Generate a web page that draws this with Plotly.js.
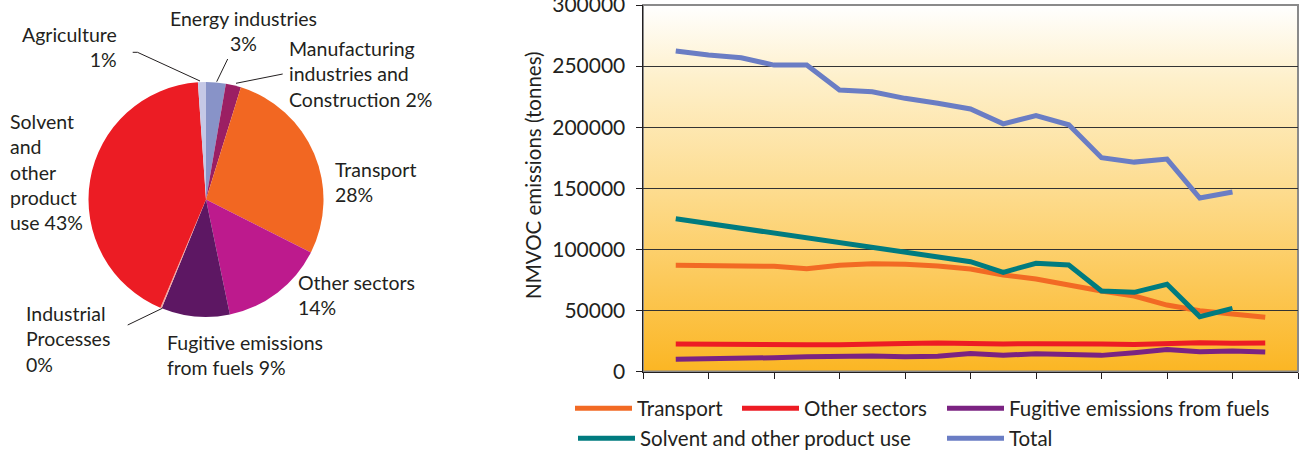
<!DOCTYPE html>
<html>
<head>
<meta charset="utf-8">
<script src="https://cdn.plot.ly/plotly-3.0.1.min.js"></script>
<style>
  html, body { margin: 0; padding: 0; background: #ffffff; }
  #wrap { position: relative; width: 1300px; height: 452px; }
  #bg { position: absolute; left: 643px; top: 5px; width: 655px; height: 366px;
        background: linear-gradient(to bottom, #FFFFFF 0%, #FEF0CB 20%, #FDDB8C 52%, #FBB624 100%);
        z-index: 0; }
  #chart { position: absolute; left: 0; top: 0; width: 1300px; height: 452px; z-index: 1; }
</style>
</head>
<body>
<div id="wrap"><div id="bg"></div><div id="chart"></div></div>
<script>
// ---------- data ----------
const years = [1990, 1991, 1992, 1993, 1994, 1995, 1996, 1997, 1998, 1999,
               2000, 2001, 2002, 2003, 2004, 2005, 2006, 2007, 2008];
const transport = [86900, 87100, 86400, 86100, 84200, 86900, 88300, 87700, 86400, 83900,
                   79000, 75700, 70300, 65900, 61800, 54400, 49800, 47600, 44400];
const otherSectors = [22500, 22600, 22600, 22600, 21900, 21900, 22800, 23000, 23400, 22500,
                      22600, 22800, 23000, 22500, 22200, 23000, 23600, 23200, 23400];
const fugitive = [10000, 10200, 10800, 11300, 12100, 12700, 12700, 12100, 12400, 14800,
                  13200, 14600, 13500, 13200, 15400, 18100, 16200, 16800, 16000];
const solvent = [125000, 121000, 117000, 113000, 109000, 105000, 101000, 97500, 93500, 89900,
                 81200, 88600, 87200, 65900, 64800, 71400, 44900, 51700];
const total = [262300, 259000, 256800, 250800, 250800, 230400, 229000, 223600, 219500, 214900,
               202700, 209500, 201900, 175000, 171400, 173900, 142000, 147000];
const seriesNames = ['Transport', 'Other sectors', 'Fugitive emissions from fuels',
                     'Solvent and other product use', 'Total'];
const yTitle = 'NMVOC emissions (tonnes)';

const pieNames = ['Energy industries', 'Manufacturing industries and Construction', 'Transport',
                  'Other sectors', 'Fugitive emissions from fuels', 'Industrial Processes',
                  'Solvent and other product use', 'Agriculture'];
const pieValues = [2.7, 2.1, 27.6, 14.3, 9.4, 0.2, 42.5, 1.1];
const pieLabelText = ['Energy industries<br>3%', 'Manufacturing<br>industries and<br>Construction 2%',
                      'Transport<br>28%', 'Other sectors<br>14%', 'Fugitive emissions<br>from fuels 9%',
                      'Industrial<br>Processes<br>0%', 'Solvent<br>and<br>other<br>product<br>use 43%',
                      'Agriculture<br>1%'];

// ---------- styling ----------
const W = 1300, H = 452;
const px = x => x / W;
const py = y => 1 - y / H;
const FONT = 'Lato, "Open Sans", sans-serif';
const INK = '#231F20';
const lineColors = ['#F26A24', '#ED1C24', '#7B2382', '#007B7F', '#6A7DC4'];
const pieColors = ['#8893C8', '#9B1F63', '#F26722', '#BD1A8D', '#5D1763', '#F4A6A0', '#EC1C24', '#C5C8E6'];

const lineData = [transport, otherSectors, fugitive, solvent, total];
const legendIds = ['legend', 'legend2', 'legend3', 'legend4', 'legend5'];
const traces = lineData.map((vals, i) => ({
  type: 'scatter', mode: 'lines',
  x: years.slice(0, vals.length), y: vals,
  name: seriesNames[i],
  line: { color: lineColors[i], width: 5 },
  legend: legendIds[i],
  xaxis: 'x', yaxis: 'y'
}));

traces.push({
  type: 'pie', labels: pieNames, values: pieValues, sort: false, direction: 'clockwise',
  rotation: 0, textinfo: 'none', showlegend: false,
  marker: { colors: pieColors, line: { width: 0 } },
  domain: { x: [px(206 - 117.5), px(206 + 117.5)], y: [py(199.5 + 117.5), py(199.5 - 117.5)] }
});

// pie label annotation positions [x, y, xanchor, align]
const pieLabelPos = [
  [243, 31.5, 'center', 'center'],
  [287, 74, 'left', 'left'],
  [333, 182, 'left', 'left'],
  [296, 294.5, 'left', 'left'],
  [165, 354.5, 'left', 'left'],
  [24, 338.5, 'left', 'left'],
  [8, 171.5, 'left', 'left'],
  [119, 47, 'right', 'right']
];
const annotations = pieLabelText.map((t, i) => ({
  text: t, xref: 'paper', yref: 'paper', showarrow: false,
  x: px(pieLabelPos[i][0]), y: py(pieLabelPos[i][1]),
  xanchor: pieLabelPos[i][2], yanchor: 'middle', align: pieLabelPos[i][3],
  font: { family: FONT, size: 19.5, color: INK }
}));
annotations.push({
  text: yTitle, xref: 'paper', yref: 'paper', showarrow: false, textangle: -90,
  x: px(533), y: py(175), xanchor: 'center', yanchor: 'middle',
  font: { family: FONT, size: 20.5, color: INK }
});

const leader = (pts) => ({
  type: 'path', xref: 'paper', yref: 'paper',
  path: pts.map((p, i) => (i ? 'L' : 'M') + px(p[0]) + ',' + py(p[1])).join(' '),
  line: { color: INK, width: 1 }
});
const shapes = [
  leader([[132.7, 52.3], [137.5, 52.3], [200, 81]]),
  leader([[227.7, 59], [216.7, 81.7]]),
  leader([[282.7, 74], [236, 83.3]]),
  leader([[127.7, 325], [162.3, 308.3]]),
  { type: 'rect', xref: 'x domain', yref: 'y domain', x0: 0, x1: 1, y0: 0, y1: 1,
    line: { color: '#8a8a8a', width: 2 }, layer: 'below' }
];

// legends: [iconStartX, rowY]
const legendPos = [[574, 409.5], [741, 409.5], [946, 409.5], [577, 439.5], [946, 439.5]];
const layout = {
  width: W, height: H,
  margin: { l: 0, r: 0, t: 0, b: 0, autoexpand: false },
  paper_bgcolor: 'rgba(0,0,0,0)', plot_bgcolor: 'rgba(0,0,0,0)',
  font: { family: FONT, color: INK },
  xaxis: {
    domain: [px(643), px(1298)], range: [1989, 2009],
    tick0: 1989, dtick: 2, ticks: 'outside', ticklen: 6, tickcolor: INK, tickwidth: 1,
    showticklabels: false, showgrid: false, zeroline: false,
    showline: true, linecolor: INK, linewidth: 1.5
  },
  yaxis: {
    domain: [py(371.5), py(5)], range: [0, 300000], dtick: 50000, tickformat: 'd',
    ticks: 'outside', ticklen: 6, tickcolor: INK, tickwidth: 1,
    showgrid: true, gridcolor: '#333333', gridwidth: 1, zeroline: false,
    showline: true, linecolor: INK, linewidth: 1.5, ticklabeloverflow: 'allow',
    tickfont: { family: FONT, size: 21, color: INK }, ticklabelstandoff: 6
  },
  annotations: annotations,
  shapes: shapes
};
legendPos.forEach((p, i) => {
  layout[legendIds[i]] = {
    x: px(p[0] - 4), xanchor: 'left', y: py(p[1] - 1), yanchor: 'middle',
    orientation: 'h', bgcolor: 'rgba(0,0,0,0)', itemwidth: 57,
    font: { family: FONT, size: 20.5, color: INK }
  };
});

Plotly.newPlot('chart', traces, layout, { displayModeBar: false, staticPlot: true });
</script>
</body>
</html>
